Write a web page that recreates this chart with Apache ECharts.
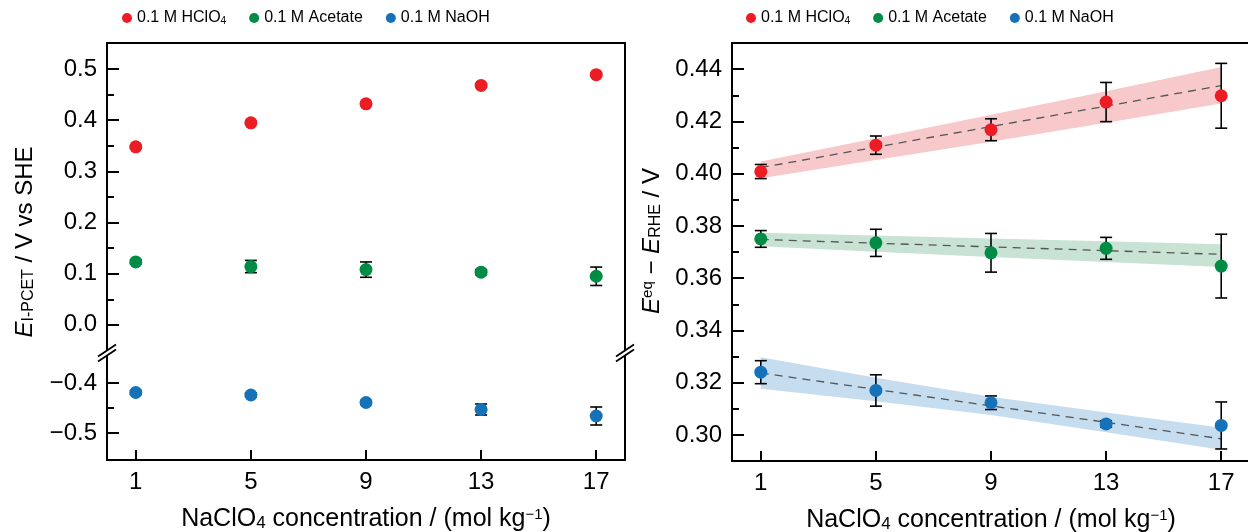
<!DOCTYPE html>
<html>
<head>
<meta charset="utf-8">
<script src="https://cdn.jsdelivr.net/npm/echarts@6.0.0/dist/echarts.min.js"></script>
<style>
  html, body { margin: 0; padding: 0; background: #fff; }
  #chart { width: 1248px; height: 532px; }
</style>
</head>
<body>
<div id="chart"></div>
<script>
// ---- data ----
var conc = [1, 5, 9, 13, 17];
var names = ['0.1 M HClO4', '0.1 M Acetate', '0.1 M NaOH'];
var colors = ['#ec1c24', '#008c44', '#1672b8'];
var bandColors = ['#f7c9cb', '#c8e3d3', '#c6dcef'];

// left panel: E(I-PCET) vs SHE
var leftHClO4 = [0.348, 0.395, 0.432, 0.468, 0.489];
var leftHClO4Err = [0.003, 0.003, 0.003, 0.003, 0.003];
var leftAcetate = [0.123, 0.114, 0.108, 0.103, 0.095];
var leftAcetateErr = [0.004, 0.012, 0.015, 0.005, 0.018];
var leftNaOH = [-0.419, -0.424, -0.439, -0.453, -0.466];
var leftNaOHErr = [0.004, 0.004, 0.004, 0.011, 0.018];

// right panel: E_eq - E_RHE
var rightHClO4 = [0.4008, 0.4109, 0.4168, 0.4274, 0.4298];
var rightHClO4Err = [0.0027, 0.0035, 0.0042, 0.0075, 0.0124];
var rightAcetate = [0.3750, 0.3735, 0.3697, 0.3714, 0.3646];
var rightAcetateErr = [0.0032, 0.0052, 0.0074, 0.0042, 0.0122];
var rightNaOH = [0.3240, 0.3170, 0.3123, 0.3042, 0.3036];
var rightNaOHErr = [0.0044, 0.0060, 0.0026, 0.0012, 0.0090];

// linear fits (ends at 1 and 17) and shaded bands
var fitX = [1, 17];
var fitHClO4 = [0.4023, 0.4337];
var fitAcetate = [0.3748, 0.3691];
var fitNaOH = [0.3237, 0.2985];
var bandHClO4Lo = [0.3982, 0.4052, 0.4122, 0.4195, 0.4268];
var bandHClO4Hi = [0.4046, 0.4135, 0.4225, 0.4315, 0.4408];
var bandAcetateLo = [0.3722, 0.3701, 0.3681, 0.3662, 0.3643];
var bandAcetateHi = [0.3774, 0.3763, 0.3752, 0.3741, 0.3730];
var bandNaOHLo = [0.3177, 0.3129, 0.3076, 0.3010, 0.2943];
var bandNaOHHi = [0.3297, 0.3219, 0.3146, 0.3086, 0.3027];

// tick values
var xTicks = [1, 5, 9, 13, 17];
var leftTopMajor = [0, 0.1, 0.2, 0.3, 0.4, 0.5];
var leftTopMinor = [0.05, 0.15, 0.25, 0.35, 0.45];
var leftBotMajor = [-0.5, -0.4];
var leftBotMinor = [-0.45];
var rightMajor = [0.30, 0.32, 0.34, 0.36, 0.38, 0.40, 0.42, 0.44];
var rightMinor = [0.31, 0.33, 0.35, 0.37, 0.39, 0.41, 0.43];

// ---- layout ----
var FONT = '"Liberation Sans", Arial, sans-serif';
var LX = 107, RX = 732, PW = 518, TOP = 43, BRK = 353, BOT = 460;

var chart = echarts.init(document.getElementById('chart'));

function zip(xs, ys) { return xs.map(function (x, i) { return [x, ys[i]]; }); }
function errData(ys, es) { return conc.map(function (x, i) { return [x, ys[i] - es[i], ys[i] + es[i]]; }); }
function minus(s) { return s.replace('-', '\u2212'); }

var richAxis = {
  sub: { fontSize: 17, fontFamily: FONT, color: '#000', verticalAlign: 'bottom', lineHeight: 17 },
  sup: { fontSize: 15, fontFamily: FONT, color: '#000', verticalAlign: 'top', lineHeight: 20 }
};

function xMain(grid) {
  return {
    type: 'value', gridIndex: grid, position: 'bottom', min: 0, max: 18,
    axisLine: { onZero: false, lineStyle: { color: '#000', width: 2 } },
    axisTick: { inside: true, length: 10, customValues: xTicks, lineStyle: { color: '#000', width: 2 } },
    axisLabel: { customValues: xTicks, fontSize: 24, color: '#000', fontFamily: FONT, margin: 10 },
    splitLine: { show: false },
    name: 'NaClO{sub|4} concentration / (mol kg{sup|\u22121})',
    nameLocation: 'middle', nameGap: 47,
    nameTextStyle: { fontSize: 25, color: '#000', fontFamily: FONT, rich: richAxis }
  };
}
function xFrame(grid) {
  return {
    type: 'value', gridIndex: grid, position: 'top', min: 0, max: 18,
    axisLine: { onZero: false, lineStyle: { color: '#000', width: 2 } },
    axisTick: { show: false }, axisLabel: { show: false }, splitLine: { show: false }
  };
}
function yMain(grid, min, max, ticks, digits) {
  return {
    type: 'value', gridIndex: grid, position: 'left', min: min, max: max,
    axisLine: { show: true, onZero: false, lineStyle: { color: '#000', width: 2 } },
    axisTick: { show: true, inside: true, length: 12, customValues: ticks, lineStyle: { color: '#000', width: 2 } },
    axisLabel: {
      customValues: ticks, fontSize: 24, color: '#000', fontFamily: FONT, margin: 10,
      formatter: function (v) { return minus(v.toFixed(digits)); }
    },
    splitLine: { show: false }
  };
}
function yMinor(grid, min, max, ticks) {
  return {
    type: 'value', gridIndex: grid, position: 'left', min: min, max: max,
    axisLine: { show: false, onZero: false },
    axisTick: { show: true, inside: true, length: 7, customValues: ticks, lineStyle: { color: '#000', width: 2 } },
    axisLabel: { show: false }, splitLine: { show: false }
  };
}
function yFrame(grid, min, max) {
  return {
    type: 'value', gridIndex: grid, position: 'right', min: min, max: max,
    axisLine: { show: true, onZero: false, lineStyle: { color: '#000', width: 2 } },
    axisTick: { show: false }, axisLabel: { show: false }, splitLine: { show: false }
  };
}

function errSeries(name, xi, yi, ys, es) {
  return {
    type: 'custom', name: name + ' err', xAxisIndex: xi, yAxisIndex: yi, z: 3, silent: true,
    data: errData(ys, es),
    encode: { x: 0, y: [1, 2] },
    renderItem: function (params, api) {
      var x = api.value(0);
      var a = api.coord([x, api.value(2)]);
      var b = api.coord([x, api.value(1)]);
      var w = 6, st = { stroke: '#000', lineWidth: 1.6 };
      return {
        type: 'group', children: [
          { type: 'line', shape: { x1: a[0], y1: a[1], x2: b[0], y2: b[1] }, style: st },
          { type: 'line', shape: { x1: a[0] - w, y1: a[1], x2: a[0] + w, y2: a[1] }, style: st },
          { type: 'line', shape: { x1: b[0] - w, y1: b[1], x2: b[0] + w, y2: b[1] }, style: st }
        ]
      };
    }
  };
}
function dotSeries(i, xi, yi, ys) {
  return {
    type: 'scatter', name: names[i], xAxisIndex: xi, yAxisIndex: yi, z: 4,
    symbol: 'circle', symbolSize: 13, itemStyle: { color: colors[i], opacity: 1 },
    data: zip(conc, ys)
  };
}
function bandSeries(i, lo, hi) {
  return {
    type: 'custom', name: names[i] + ' band', xAxisIndex: 2, yAxisIndex: 6, z: 1, silent: true,
    data: conc.map(function (x, k) { return [x, lo[k], hi[k]]; }),
    encode: { x: 0, y: [1, 2] },
    renderItem: function (params, api) {
      if (params.dataIndex !== 0) return;
      var pts = [];
      conc.forEach(function (x, k) { pts.push(api.coord([x, hi[k]])); });
      for (var k = conc.length - 1; k >= 0; k--) pts.push(api.coord([conc[k], lo[k]]));
      return { type: 'polygon', shape: { points: pts }, style: { fill: bandColors[i] } };
    }
  };
}
function fitSeries(i, ys) {
  return {
    type: 'line', name: names[i] + ' fit', xAxisIndex: 2, yAxisIndex: 6, z: 2, silent: true,
    data: zip(fitX, ys), symbol: 'none',
    lineStyle: { color: '#555', width: 1.3, type: [8, 6] }
  };
}

function legendFor(left) {
  return {
    left: left, top: 5, data: names, icon: 'circle', itemWidth: 10, itemHeight: 10, itemGap: 23,
    selectedMode: false,
    formatter: function (n) { return n.replace('HClO4', 'HClO{sub|4}'); },
    textStyle: {
      fontSize: 16, color: '#000', fontFamily: FONT,
      rich: { sub: { fontSize: 10, fontFamily: FONT, color: '#000', verticalAlign: 'bottom', lineHeight: 12 } }
    }
  };
}

// axis break marks (double slash) on a vertical axis line
function breakMark(x, y) {
  var dx = 9, dy = 6, h = 2.6;
  return [
    { type: 'polygon', z: 100, shape: { points: [[x - dx, y - h + dy], [x + dx, y - h - dy], [x + dx, y + h - dy], [x - dx, y + h + dy]] }, style: { fill: '#fff' } },
    { type: 'line', z: 101, shape: { x1: x - dx, y1: y - h + dy, x2: x + dx, y2: y - h - dy }, style: { stroke: '#000', lineWidth: 1.8 } },
    { type: 'line', z: 101, shape: { x1: x - dx, y1: y + h + dy, x2: x + dx, y2: y + h - dy }, style: { stroke: '#000', lineWidth: 1.8 } }
  ];
}

function yTitle(x, y, text) {
  return {
    type: 'text', x: x, y: y, rotation: Math.PI / 2, z: 100,
    style: {
      text: text, fill: '#000', font: '24px ' + FONT,
      align: 'center', verticalAlign: 'middle', textAlign: 'center', textVerticalAlign: 'middle',
      rich: {
        i: { font: 'italic 24px ' + FONT, fill: '#000' },
        sub: { font: '16px ' + FONT, fill: '#000', verticalAlign: 'bottom', lineHeight: 17 },
        sup: { font: '15px ' + FONT, fill: '#000', verticalAlign: 'top', lineHeight: 20 }
      }
    }
  };
}

var option = {
  backgroundColor: '#fff',
  animation: false,
  textStyle: { fontFamily: FONT },
  legend: [legendFor(117), legendFor(741)],
  grid: [
    { left: LX, top: TOP, width: PW, height: BRK - TOP, outerBoundsMode: 'none', containLabel: false },
    { left: LX, top: BRK, width: PW, height: BOT - BRK, outerBoundsMode: 'none', containLabel: false },
    { left: RX, top: TOP, width: PW, height: BOT + 1 - TOP, outerBoundsMode: 'none', containLabel: false }
  ],
  xAxis: [xFrame(0), xMain(1), xMain(2), xFrame(2)],
  yAxis: [
    yMain(0, -0.055, 0.551, leftTopMajor, 1), yMinor(0, -0.055, 0.551, leftTopMinor), yFrame(0, -0.055, 0.551),
    yMain(1, -0.554, -0.34, leftBotMajor, 1), yMinor(1, -0.554, -0.34, leftBotMinor), yFrame(1, -0.554, -0.34),
    yMain(2, 0.29, 0.45, rightMajor, 2), yMinor(2, 0.29, 0.45, rightMinor)
  ],
  graphic: [].concat(
    breakMark(LX, BRK), breakMark(LX + PW, BRK),
    [yTitle(25, 242, '{i|E}{sub|I-PCET} / V vs SHE'),
     yTitle(652, 241, '{i|E}{sup|eq} \u2212 {i|E}{sub|RHE} / V')]
  ),
  series: [
    errSeries(names[0], 0, 0, leftHClO4, leftHClO4Err),
    errSeries(names[1], 0, 0, leftAcetate, leftAcetateErr),
    errSeries(names[2], 1, 3, leftNaOH, leftNaOHErr),
    dotSeries(0, 0, 0, leftHClO4),
    dotSeries(1, 0, 0, leftAcetate),
    dotSeries(2, 1, 3, leftNaOH),

    bandSeries(0, bandHClO4Lo, bandHClO4Hi),
    bandSeries(1, bandAcetateLo, bandAcetateHi),
    bandSeries(2, bandNaOHLo, bandNaOHHi),
    fitSeries(0, fitHClO4),
    fitSeries(1, fitAcetate),
    fitSeries(2, fitNaOH),
    errSeries(names[0], 2, 6, rightHClO4, rightHClO4Err),
    errSeries(names[1], 2, 6, rightAcetate, rightAcetateErr),
    errSeries(names[2], 2, 6, rightNaOH, rightNaOHErr),
    dotSeries(0, 2, 6, rightHClO4),
    dotSeries(1, 2, 6, rightAcetate),
    dotSeries(2, 2, 6, rightNaOH)
  ]
};

chart.setOption(option);
</script>
</body>
</html>
